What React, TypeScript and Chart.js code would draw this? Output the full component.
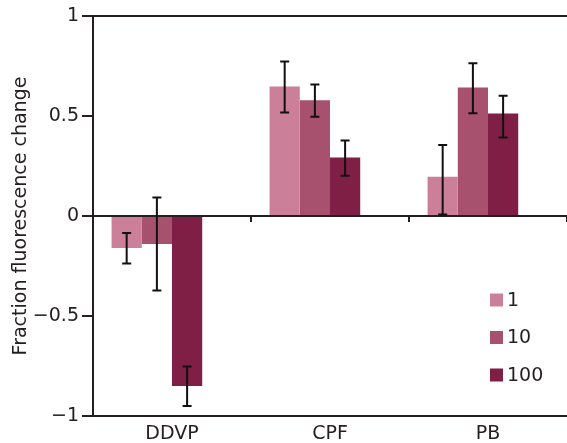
import React, { useEffect, useRef } from 'react';
import { Chart, registerables } from 'chart.js';

Chart.register(...registerables);

const categories = ['DDVP', 'CPF', 'PB'];
const seriesLabels = ['1', '10', '100'];
const seriesColors = ['#cc7f99', '#a8516f', '#801f45'];
const values1 = [-0.16, 0.647, 0.196];
const values10 = [-0.14, 0.579, 0.643];
const values100 = [-0.85, 0.293, 0.513];
const errUp1 = [0.075, 0.125, 0.159];
const errDown1 = [0.077, 0.129, 0.189];
const errUp10 = [0.232, 0.079, 0.121];
const errDown10 = [0.232, 0.083, 0.129];
const errUp100 = [0.098, 0.085, 0.088];
const errDown100 = [0.1, 0.092, 0.121];
const yTicks = [-1, -0.5, 0, 0.5, 1];

const INK = '#231f20';
const FONT = '"DejaVu Sans", "Liberation Sans", Arial, sans-serif';

const errorBarPlugin = {
  id: 'errorBars',
  afterDatasetsDraw(chart: any) {
    const ctx = chart.ctx;
    const yScale = chart.scales.y;
    ctx.save();
    ctx.strokeStyle = '#111';
    ctx.lineWidth = 2;
    chart.data.datasets.forEach((ds: any, i: number) => {
      if (!ds.errUp) return;
      const meta = chart.getDatasetMeta(i);
      meta.data.forEach((el: any, j: number) => {
        const v = ds.data[j];
        if (v == null) return;
        const x = el.x;
        const yTop = yScale.getPixelForValue(v + ds.errUp[j]);
        const yBot = yScale.getPixelForValue(v - ds.errDown[j]);
        const cap = 4.5;
        ctx.beginPath();
        ctx.moveTo(x, yTop);
        ctx.lineTo(x, yBot);
        ctx.moveTo(x - cap, yTop);
        ctx.lineTo(x + cap, yTop);
        ctx.moveTo(x - cap, yBot);
        ctx.lineTo(x + cap, yBot);
        ctx.stroke();
      });
    });
    ctx.restore();
  },
};

const insideLegendPlugin = {
  id: 'insideLegend',
  afterDraw(chart: any) {
    const ctx = chart.ctx;
    const area = chart.chartArea;
    const boxSize = 13;
    const rowGap = 37.5;
    const left = area.right - 77;
    let cy = area.bottom - 116;
    ctx.save();
    ctx.font = `19px ${FONT}`;
    ctx.textBaseline = 'middle';
    ctx.textAlign = 'left';
    chart.data.datasets.forEach((ds: any) => {
      if (!ds.label) return;
      ctx.fillStyle = ds.backgroundColor;
      ctx.fillRect(left, cy - boxSize / 2, boxSize, boxSize);
      ctx.fillStyle = INK;
      ctx.fillText(ds.label, left + boxSize + 4, cy + 1);
      cy += rowGap;
    });
    ctx.restore();
  },
};

export default function App() {
  const canvasRef = useRef<HTMLCanvasElement | null>(null);

  useEffect(() => {
    if (!canvasRef.current) return;
    const seriesValues = [values1, values10, values100];
    const ups = [errUp1, errUp10, errUp100];
    const downs = [errDown1, errDown10, errDown100];
    const datasets: any[] = seriesLabels.map((label, i) => ({
      label,
      data: seriesValues[i],
      backgroundColor: seriesColors[i],
      borderWidth: 0,
      errUp: ups[i],
      errDown: downs[i],
    }));
    // empty spacer series: keeps the bar group shifted left of category centre
    datasets.push({
      label: '',
      data: categories.map(() => null),
      backgroundColor: 'rgba(0,0,0,0)',
      borderWidth: 0,
    });

    const chart = new Chart(canvasRef.current, {
      type: 'bar',
      data: { labels: categories, datasets },
      plugins: [errorBarPlugin, insideLegendPlugin],
      options: {
        animation: false,
        responsive: false,
        layout: { padding: { top: 16, right: 0, bottom: 0, left: 0 } },
        datasets: {
          bar: { categoryPercentage: 0.765, barPercentage: 1 },
        },
        plugins: {
          legend: { display: false },
          tooltip: { enabled: false },
        },
        scales: {
          x: {
            type: 'category',
            position: 'bottom',
            offset: true,
            grid: { display: false, drawTicks: false, offset: true },
            border: { display: false },
            ticks: {
              color: INK,
              font: { family: FONT, size: 19 },
              padding: 7,
            },
            afterFit(scale: any) {
              scale.height = 27;
            },
          },
          x2: {
            type: 'category',
            axis: 'x',
            position: { y: 0 },
            offset: true,
            grid: {
              display: true,
              offset: true,
              drawOnChartArea: false,
              drawTicks: true,
              tickLength: 6,
              tickColor: INK,
              lineWidth: 2,
            },
            border: { display: false },
            ticks: { display: false },
          },
          y: {
            type: 'linear',
            min: -1,
            max: 1,
            afterBuildTicks(scale: any) {
              scale.ticks = yTicks.map((v) => ({ value: v }));
            },
            grid: {
              color: (c: any) =>
                c.tick && (Math.abs(c.tick.value) === 1 || c.tick.value === 0)
                  ? INK
                  : 'rgba(0,0,0,0)',
              tickColor: INK,
              lineWidth: 2,
              tickLength: 11,
              drawTicks: true,
            },
            border: { display: true, color: INK, width: 2 },
            ticks: {
              color: INK,
              font: { family: FONT, size: 19 },
              padding: 3,
              callback: (v: any) => {
                const n = Number(v);
                return (n < 0 ? '\u2212' : '') + String(Math.abs(n));
              },
            },
            title: {
              display: true,
              text: 'Fraction fluorescence change',
              color: INK,
              font: { family: FONT, size: 19 },
              padding: { top: 10, bottom: 0 },
            },
            afterFit(scale: any) {
              scale.width = 93;
            },
          },
        },
      } as any,
    });
    return () => chart.destroy();
  }, []);

  return (
    <div style={{ position: 'fixed', left: 0, top: 0, width: 567, height: 443, background: '#fff' }}>
      <canvas ref={canvasRef} width={567} height={443} style={{ display: 'block' }} />
    </div>
  );
}
